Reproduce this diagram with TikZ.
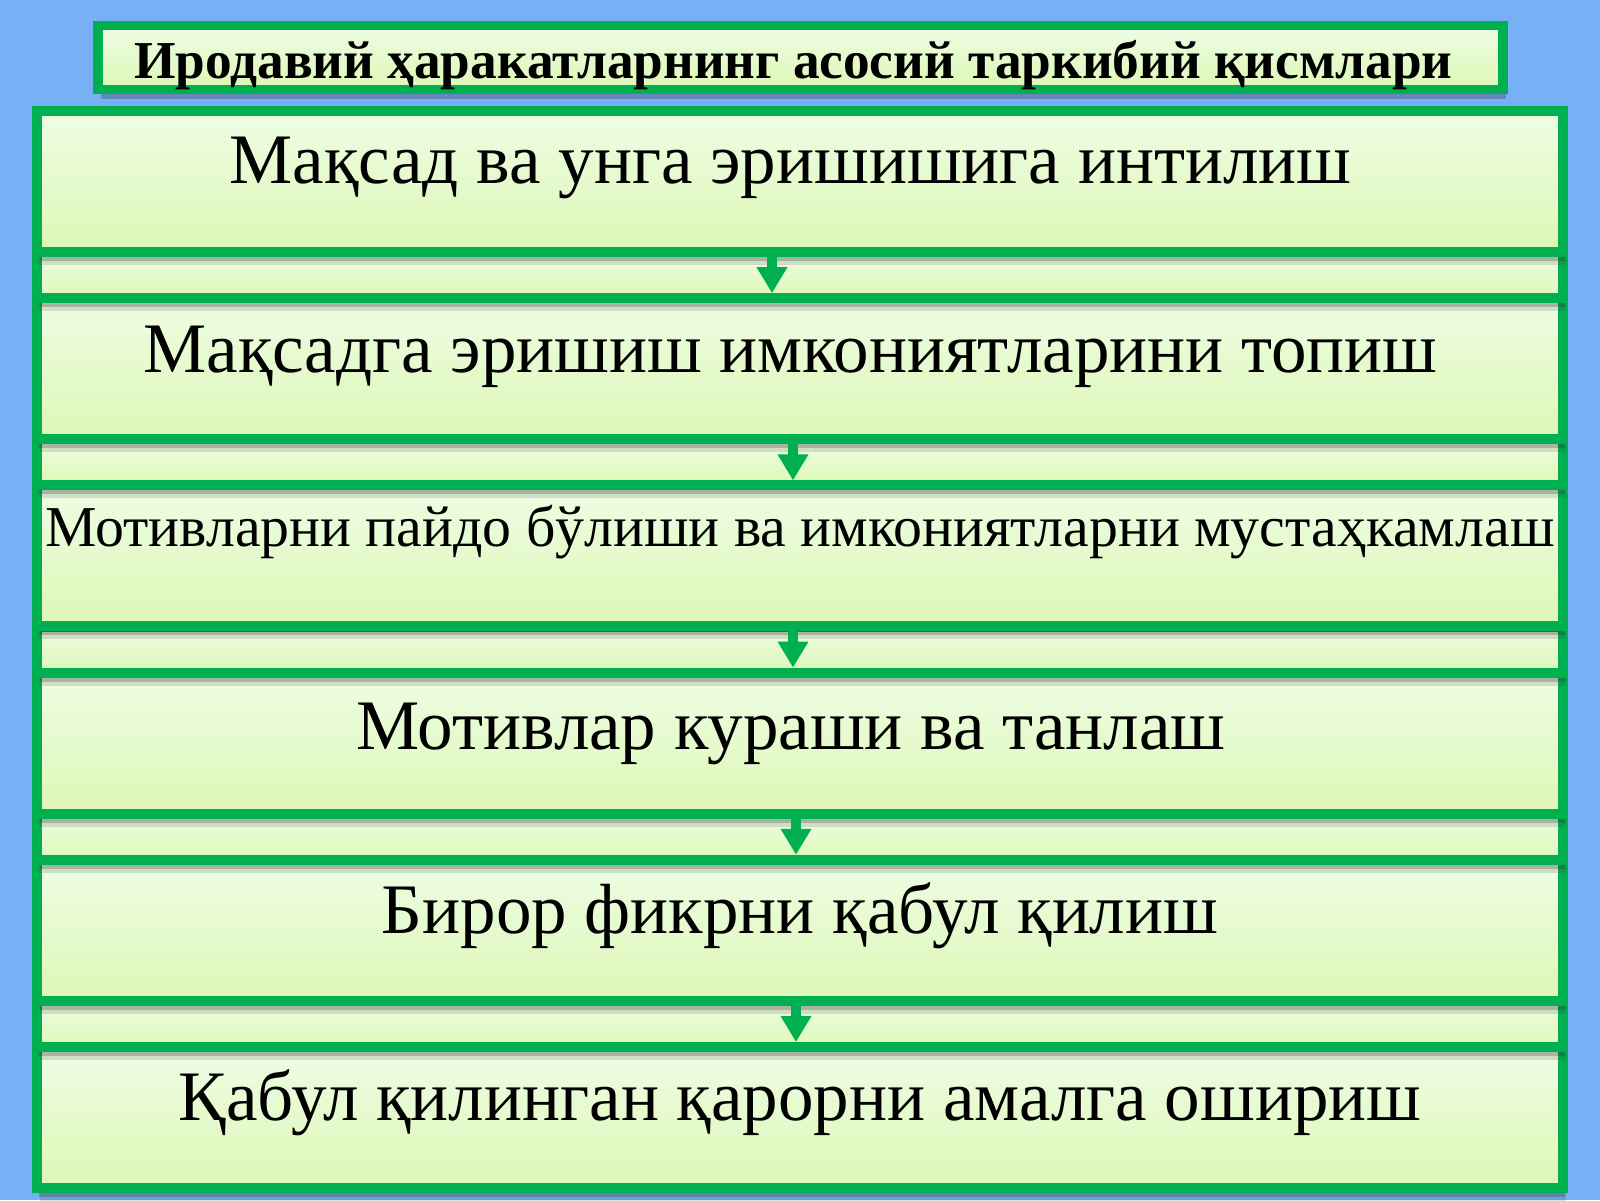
\documentclass[tikz,border=0pt]{standalone}
\usepackage{fontspec}
\setmainfont{Liberation Serif}
\usetikzlibrary{arrows.meta,shadows}
\definecolor{bg}{RGB}{120,176,246}
\definecolor{bord}{RGB}{0,176,80}
\definecolor{filltop}{RGB}{238,253,228}
\definecolor{fillbot}{RGB}{221,247,182}
\newcommand{\padright}[1]{\rule{#1}{0pt}}
\begin{document}
\begin{tikzpicture}[x=0.5pt,y=-0.5pt,
  softshadow/.style={
    drop shadow={opacity=0.15, shadow xshift=1.5pt, shadow yshift=-6.5pt, fill=black!80},
    drop shadow={opacity=0.25, shadow xshift=1pt, shadow yshift=-4.5pt, fill=black!80}},
  panel/.style={draw=bord, line width=5pt, top color=filltop, bottom color=fillbot,
    minimum width=762.75pt, inner sep=0pt, anchor=north, softshadow},
  stepbox/.style n args={2}{panel, text height=#1, text depth=#2,
    font=\fontsize{35.5}{40}\selectfont},
  gapbox/.style={panel, minimum height=23pt},
  titlebox/.style={draw=bord, line width=4.75pt, top color=filltop, bottom color=fillbot,
    minimum width=702.5pt, inner sep=0pt, anchor=north, text height=26.25pt, text depth=5.75pt,
    font=\bfseries\fontsize{26.65}{30}\selectfont,
    drop shadow={opacity=0.3, shadow xshift=1.5pt, shadow yshift=-4.5pt, fill=black!80}},
  flow/.style={draw=bord, line width=5pt, -{Triangle[width=14.5pt,length=13pt]}}
]
\fill[bg] (0,0) rectangle (1600,1200);
\useasboundingbox (0,0) rectangle (1600,1200);

\node[titlebox] (t) at (800.5,20.75) {Иродавий ҳаракатларнинг асосий таркибий қисмлари\padright{7pt}};

\node[stepbox={36.5pt}{34pt}] (b6) at (800,1042) {Қабул қилинган қарорни амалга ошириш};
\node[gapbox] (s5) at (800,996) {};
\node[stepbox={37pt}{33.5pt}] (b5) at (800,854.8) {Бирор фикрни қабул қилиш};
\node[gapbox] (s4) at (800,808.8) {};
\node[stepbox={38.5pt}{32pt}] (b4) at (800,667.6) {Мотивлар кураши ва танлаш\padright{9pt}};
\node[gapbox] (s3) at (800,621.6) {};
\node[stepbox={30.5pt}{40pt}, font=\fontsize{28.9}{34}\selectfont] (b3) at (800,480.4) {Мотивларни пайдо бўлиши ва имкониятларни мустаҳкамлаш};
\node[gapbox] (s2) at (800,434.4) {};
\node[stepbox={37pt}{33.5pt}] (b2) at (800,293.2) {Мақсадга эришиш имкониятларини топиш\padright{9.5pt}};
\node[gapbox] (s1) at (800,247.2) {};
\node[stepbox={36pt}{34.5pt}] (b1) at (800,106) {Мақсад ва унга эришишига интилиш\padright{9.5pt}};

\draw[flow] ([xshift=-14pt]b1.south) -- ([xshift=-14pt]b2.north);
\draw[flow] ([xshift=-3.5pt]b2.south) -- ([xshift=-3.5pt]b3.north);
\draw[flow] ([xshift=-3.5pt]b3.south) -- ([xshift=-3.5pt]b4.north);
\draw[flow] ([xshift=-2pt]b4.south) -- ([xshift=-2pt]b5.north);
\draw[flow] ([xshift=-2pt]b5.south) -- ([xshift=-2pt]b6.north);
\end{tikzpicture}
\end{document}
